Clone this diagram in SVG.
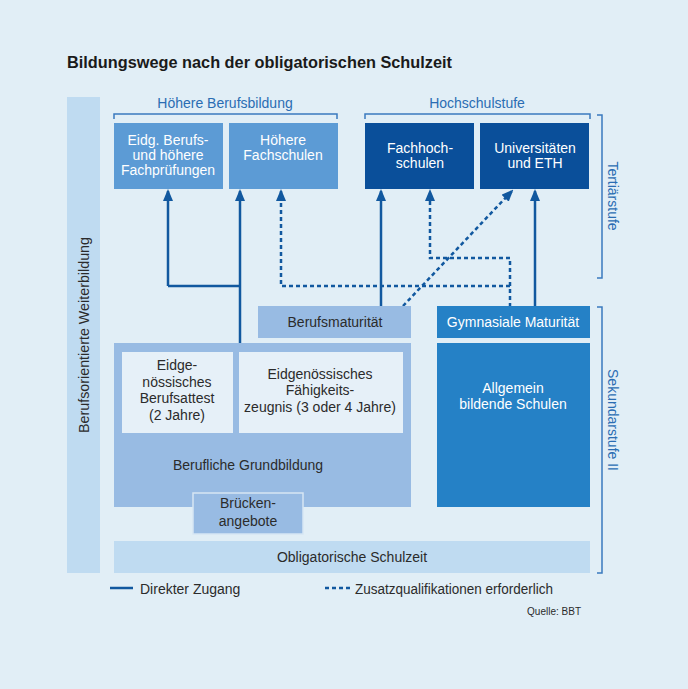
<svg xmlns="http://www.w3.org/2000/svg" width="688" height="689" viewBox="0 0 688 689">
<defs>
<marker id="ah" viewBox="0 -5 12 10" refX="10" refY="0" markerWidth="12" markerHeight="10" markerUnits="userSpaceOnUse" orient="auto">
<path d="M0,-5 L12,0 L0,5 Z" fill="#11589f"/>
</marker>
</defs>
<style>
text{font-family:"Liberation Sans","DejaVu Sans",sans-serif}
.w{fill:#ffffff;font-size:14px;text-anchor:middle}
.d{fill:#2b2b2b;font-size:14px;text-anchor:middle}
.lab{fill:#2a6db3;font-size:14px;text-anchor:middle}
.br{fill:none;stroke:#3a7abf;stroke-width:1.5}
.s{fill:none;stroke:#11589f;stroke-width:2.5}
.ds{fill:none;stroke:#11589f;stroke-width:2.5;stroke-dasharray:4 3}
</style>
<rect width="688" height="689" fill="#e1eef6"/>
<text x="67" y="68" font-size="17" font-weight="bold" fill="#1a1a1a" textLength="385" lengthAdjust="spacingAndGlyphs">Bildungswege nach der obligatorischen Schulzeit</text>

<g id="weiterbildung">
<rect x="67" y="97" width="33" height="476" fill="#bfdbf1"/>
<text transform="translate(89,335) rotate(-90)" fill="#2b2b2b" font-size="14" text-anchor="middle" textLength="196" lengthAdjust="spacingAndGlyphs">Berufsorientierte Weiterbildung</text>
</g>

<g id="hoehere-berufsbildung">
<path class="br" d="M114,119 V114 H337 V119"/>
<text class="lab" x="225" y="108">Höhere Berufsbildung</text>
</g>
<g id="hochschulstufe">
<path class="br" d="M365,119 V114 H590 V119"/>
<text class="lab" x="477" y="108">Hochschulstufe</text>
</g>
<g id="tertiaerstufe">
<path class="br" d="M597,115 H602 V278 H597"/>
<text transform="translate(608,196) rotate(90)" fill="#2a6db3" font-size="14" text-anchor="middle">Tertiärstufe</text>
</g>
<g id="sekundarstufe">
<path class="br" d="M597,307 H602 V573 H597"/>
<text transform="translate(608,420) rotate(90)" fill="#2a6db3" font-size="14" text-anchor="middle">Sekundarstufe II</text>
</g>

<g id="eidg-fachpruefungen">
<rect x="114" y="123" width="109" height="66" fill="#5c9bd5"/>
<text class="w" x="168" y="145">Eidg. Berufs-</text>
<text class="w" x="168" y="160">und höhere</text>
<text class="w" x="168" y="175">Fachprüfungen</text>
</g>
<g id="hoehere-fachschulen">
<rect x="229" y="123" width="109" height="66" fill="#5c9bd5"/>
<text class="w" x="283" y="145">Höhere</text>
<text class="w" x="283" y="160">Fachschulen</text>
</g>
<g id="fachhochschulen">
<rect x="365" y="123" width="109" height="66" fill="#0a4f9a"/>
<text class="w" x="420" y="153">Fachhoch-</text>
<text class="w" x="420" y="168">schulen</text>
</g>
<g id="universitaeten">
<rect x="480" y="123" width="109" height="66" fill="#0a4f9a"/>
<text class="w" x="535" y="153">Universitäten</text>
<text class="w" x="535" y="168">und ETH</text>
</g>

<g id="connectors">
<path class="s" d="M168,286 V191" marker-end="url(#ah)"/>
<path class="s" d="M168,286 H240"/>
<path class="s" d="M240,343 V191" marker-end="url(#ah)"/>
<path class="ds" d="M510,307 V286 H281 V191" marker-end="url(#ah)"/>
<path class="s" d="M381,306 V191" marker-end="url(#ah)"/>
<path class="ds" d="M510,286 V258 H430 V191" marker-end="url(#ah)"/>
<path class="ds" d="M403,306 L512,191" marker-end="url(#ah)"/>
<path class="s" d="M535,306 V191" marker-end="url(#ah)"/>
</g>

<g id="berufsmaturitaet">
<rect x="258" y="306" width="153" height="32" fill="#98bbe3"/>
<text class="d" x="335" y="327">Berufsmaturität</text>
</g>
<g id="gymnasiale-maturitaet">
<rect x="437" y="306" width="153" height="32" fill="#2581c6"/>
<text class="w" x="513" y="327">Gymnasiale Maturität</text>
</g>

<g id="berufliche-grundbildung">
<rect x="114" y="343" width="297" height="164" fill="#98bbe3"/>
<text class="d" x="248" y="470">Berufliche Grundbildung</text>
</g>
<g id="berufsattest">
<rect x="122" y="352" width="111" height="81" fill="#e6f0f8"/>
<text class="d" x="177" y="370">Eidge-</text>
<text class="d" x="177" y="387">nössisches</text>
<text class="d" x="177" y="403">Berufsattest</text>
<text class="d" x="177" y="420">(2 Jahre)</text>
</g>
<g id="faehigkeitszeugnis">
<rect x="239" y="352" width="164" height="81" fill="#e6f0f8"/>
<text class="d" x="320" y="379">Eidgenössisches</text>
<text class="d" x="320" y="395">Fähigkeits-</text>
<text class="d" x="320" y="412">zeugnis (3 oder 4 Jahre)</text>
</g>
<g id="brueckenangebote">
<rect x="193" y="493" width="110" height="41" fill="#98bbe3" stroke="#d6e6f4" stroke-width="1.5"/>
<text class="d" x="248" y="508">Brücken-</text>
<text class="d" x="248" y="526">angebote</text>
</g>

<g id="allgemeinbildende-schulen">
<rect x="437" y="343" width="153" height="164" fill="#2581c6"/>
<text class="w" x="513" y="393">Allgemein</text>
<text class="w" x="513" y="409">bildende Schulen</text>
</g>

<g id="obligatorische-schulzeit">
<rect x="114" y="541" width="476" height="32" fill="#bfdbf1"/>
<text class="d" x="352" y="562">Obligatorische Schulzeit</text>
</g>

<g id="legend">
<line x1="110" y1="588" x2="133" y2="588" class="s"/>
<text x="140" y="594" font-size="14" fill="#2b2b2b">Direkter Zugang</text>
<line x1="325" y1="588" x2="350" y2="588" stroke="#11589f" stroke-width="2.5" stroke-dasharray="4 3"/>
<text x="355" y="594" font-size="14" fill="#2b2b2b" textLength="198" lengthAdjust="spacingAndGlyphs">Zusatzqualifikationen erforderlich</text>
<text x="581" y="615" font-size="10" fill="#2b2b2b" text-anchor="end">Quelle: BBT</text>
</g>
</svg>
